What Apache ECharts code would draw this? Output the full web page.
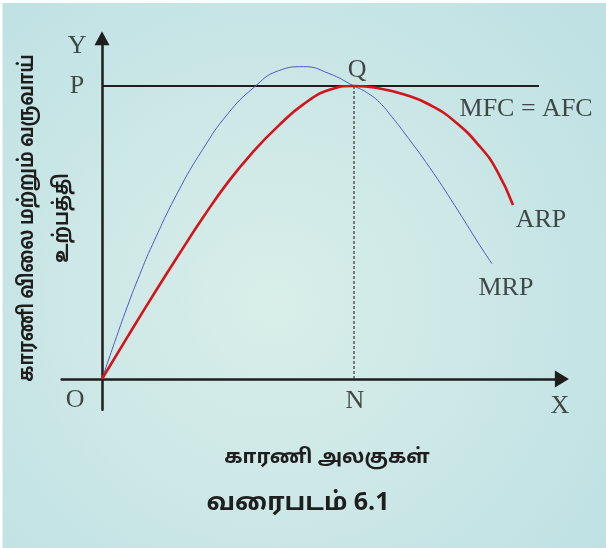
<!DOCTYPE html>
<html>
<head>
<meta charset="utf-8">
<script src="https://cdn.jsdelivr.net/npm/echarts@6/dist/echarts.min.js"></script>
<style>
   html, body { margin: 0; padding: 0; background: #ffffff; }
   #chart { width: 606px; height: 548px; }
</style>
</head>
<body>
<div id="chart"></div>
<script>
// curve data (x = factor units, y = price / revenue), Q is at (10, 10)
const arpX = [0, 1, 2, 3, 4, 5, 6, 7, 8, 9, 10, 11, 12, 13, 14, 15, 15.66, 16.31]
const arpY = [0, 1.42, 2.82, 4.18, 5.5, 6.72, 7.76, 8.64, 9.38, 9.86, 10, 9.92, 9.71, 9.36, 8.79, 7.93, 7.13, 5.94]

const mrpX = [0, 0.5, 1, 1.5, 2, 3, 4, 5, 6, 7, 8, 9, 10, 10.5, 11, 11.5, 12, 13, 14, 15, 15.48]
const mrpY = [0, 1.25, 2.46, 3.57, 4.58, 6.36, 7.84, 9.06, 9.93, 10.52, 10.66, 10.43, 10, 9.78, 9.45, 8.95, 8.4, 7.22, 5.92, 4.55, 3.93]

const priceP = 10        // MFC = AFC level
const unitsN = 10        // equilibrium units
const priceLineEnd = 17.34

// text labels and where they sit (data coords)
const labelNames = ['Y', 'P', 'Q', 'O', 'N', 'X', 'MFC = AFC', 'ARP', 'MRP']
const labelX = [-0.99, -0.99, 10.12, -1.07, 10.04, 18.17, 16.83, 17.42, 16.03]
const labelY = [11.36, 10, 10.54, -0.71, -0.75, -0.92, 9.22, 5.41, 3.1]

const yTitle1 = 'காரணி விலை மற்றும் வருவாய்'
const yTitle2 = 'உற்பத்தி'
const xTitle = 'காரணி அலகுகள்'
const figTitle = 'வரைபடம் 6.1'

// pixel layout of the plot
const ox = 102, oy = 379, sx = 25.2, sy = 29.3
const xMin = -1.6, xMax = 18.25, yMin = -1.05, yMax = 11.63

const tamil = "'Noto Sans Tamil', 'Lohit Tamil', 'Noto Sans', 'DejaVu Sans', sans-serif"
const serif = "'Liberation Serif', 'DejaVu Serif', serif"

const zip = (xs, ys) => xs.map((x, i) => [x, ys[i]])

var chart = echarts.init(document.getElementById('chart'), null, { renderer: 'canvas' })

const axisCommon = {
   type: 'value',
   axisLine: {
      show: true,
      onZero: true,
      symbol: ['none', 'triangle'],
      lineStyle: { color: '#1e1e1e', width: 2.5 }
   },
   axisTick: { show: false },
   axisLabel: { show: false },
   splitLine: { show: false }
}

const options = {
   backgroundColor: {
      type: 'radial', x: 0.45, y: 0.55, r: 0.75,
      colorStops: [
         { offset: 0, color: '#d9eee9' },
         { offset: 1, color: '#bfe1e4' }
      ]
   },
   animation: false,
   grid: {
      left: ox + xMin * sx,
      right: 606 - (ox + xMax * sx),
      top: oy - yMax * sy,
      bottom: 548 - (oy - yMin * sy)
   },
   xAxis: Object.assign({}, axisCommon, {
      min: xMin, max: xMax,
      axisLine: Object.assign({}, axisCommon.axisLine, { symbolSize: [17, 14] })
   }),
   yAxis: Object.assign({}, axisCommon, {
      min: yMin, max: yMax,
      axisLine: Object.assign({}, axisCommon.axisLine, { symbolSize: [15, 14] })
   }),
   graphic: [
      {
         type: 'rect', shape: { x: 1, y: 1.5, width: 620, height: 560 },
         style: { fill: 'none', stroke: '#ffffff', lineWidth: 3 }, z: 100
      },
      // y axis title, two rotated lines, a bit condensed like the original
      {
         type: 'text', x: 29, y: 218, rotation: Math.PI / 2, scaleX: 0.85,
         style: { text: yTitle1, font: 'bold 21px ' + tamil, fill: '#1e1e1e', textAlign: 'center', textVerticalAlign: 'middle' }
      },
      {
         type: 'text', x: 64, y: 218, rotation: Math.PI / 2, scaleX: 0.85,
         style: { text: yTitle2, font: 'bold 21px ' + tamil, fill: '#1e1e1e', textAlign: 'center', textVerticalAlign: 'middle' }
      },
      {
         type: 'text', x: 327, y: 459,
         style: { text: xTitle, font: 'bold 20px ' + tamil, fill: '#1e1e1e', textAlign: 'center', textVerticalAlign: 'middle' }
      },
      {
         type: 'text', x: 298, y: 505,
         style: { text: figTitle, font: 'bold 25px ' + tamil, fill: '#1e1e1e', textAlign: 'center', textVerticalAlign: 'middle' }
      }
   ],
   series: [
      {
         name: 'MFC = AFC',
         type: 'line',
         symbol: 'none',
         lineStyle: { color: '#1e1e1e', width: 2 },
         data: [[0, priceP], [priceLineEnd, priceP]],
         z: 2
      },
      {
         name: 'QN',
         type: 'line',
         symbol: 'none',
         lineStyle: { color: '#333333', width: 1.2, type: [3, 2] },
         data: [[unitsN, 0], [unitsN, priceP]],
         z: 2
      },
      {
         name: 'MRP',
         type: 'line',
         symbol: 'none',
         smooth: 0.5,
         lineStyle: { color: '#4b5cc4', width: 1 },
         data: zip(mrpX, mrpY),
         z: 3
      },
      {
         name: 'ARP',
         type: 'line',
         symbol: 'none',
         smooth: 0.5,
         lineStyle: { color: '#d4141c', width: 2.6 },
         data: zip(arpX, arpY),
         z: 4
      },
      {
         name: 'labels',
         type: 'scatter',
         symbolSize: 0,
         silent: true,
         label: {
            show: true,
            position: 'inside',
            formatter: '{b}',
            fontFamily: serif,
            fontSize: 26,
            color: '#1e1e1e'
         },
         data: labelNames.map((n, i) => ({ name: n, value: [labelX[i], labelY[i]] })),
         z: 5
      }
   ]
}

chart.setOption(options)
</script>
</body>
</html>
